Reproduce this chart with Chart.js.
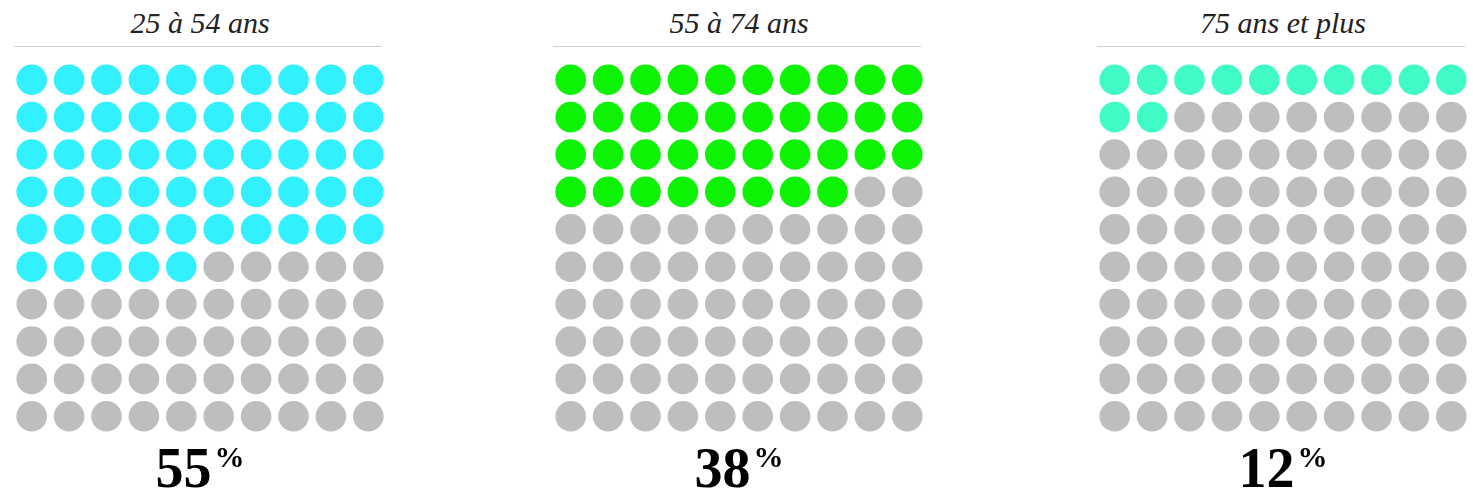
<!DOCTYPE html>
<html lang="fr">
<head>
<meta charset="utf-8">
<title>Gaufres par âge</title>
<script src="https://cdn.jsdelivr.net/npm/chart.js@4"></script>
<style>
  html, body { margin: 0; padding: 0; background: #fff; }
  body { width: 1473px; height: 491px; position: relative; overflow: hidden; }
  .panneau { position: absolute; top: 0; width: 374px; height: 491px; }
  .titre {
    position: absolute; left: 0; top: 7px; width: 374px; text-align: center;
    font-family: "Liberation Serif", serif; font-style: italic; font-size: 30px;
    line-height: 32px; color: #222;
  }
  .trait { position: absolute; left: 1px; top: 46px; width: 368px; height: 1px; background: #cfcfcf; }
  .grille { position: absolute; left: 0; top: 61px; }
  .chiffre {
    position: absolute; left: 0; top: 440px; width: 374px; text-align: center;
    font-family: "Liberation Serif", serif; font-weight: bold; font-size: 56px;
    line-height: 56px; color: #000;
  }
  .chiffre span { font-size: 30px; display: inline-block; position: relative; top: -20px; margin-left: 3px; }
</style>
</head>
<body>
<script>
// valeurs lues pour chaque tranche d'âge
const categories = ["25 à 54 ans", "55 à 74 ans", "75 ans et plus"];
const pourcentages = [55, 38, 12];
const couleurs = ["#33f0ff", "#0df205", "#40fbc5"];
const gris = "#bdbec0";
const positions = [13, 552, 1096];

const COLONNES = 10;
const LIGNES = 10;

categories.forEach((cat, k) => {
  const panneau = document.createElement("div");
  panneau.className = "panneau";
  panneau.style.left = positions[k] + "px";

  const titre = document.createElement("div");
  titre.className = "titre";
  titre.textContent = cat;
  panneau.appendChild(titre);

  const trait = document.createElement("div");
  trait.className = "trait";
  panneau.appendChild(trait);

  const canvas = document.createElement("canvas");
  canvas.className = "grille";
  canvas.width = 374;
  canvas.height = 374;
  panneau.appendChild(canvas);

  const chiffre = document.createElement("div");
  chiffre.className = "chiffre";
  chiffre.innerHTML = pourcentages[k] + "<span>%</span>";
  panneau.appendChild(chiffre);

  document.body.appendChild(panneau);

  // une pastille par point de pourcentage, remplie ligne par ligne
  const points = [];
  const fonds = [];
  for (let i = 0; i < COLONNES * LIGNES; i++) {
    points.push({ x: i % COLONNES, y: Math.floor(i / COLONNES) });
    fonds.push(i < pourcentages[k] ? couleurs[k] : gris);
  }

  new Chart(canvas, {
    type: "scatter",
    data: {
      datasets: [
        {
          label: cat,
          data: points,
          backgroundColor: fonds,
          borderWidth: 0,
          pointRadius: 15.3,
          pointHoverRadius: 15.3,
        },
      ],
    },
    options: {
      responsive: false,
      animation: false,
      events: [],
      layout: { padding: 0, autoPadding: false },
      plugins: { legend: { display: false }, tooltip: { enabled: false } },
      scales: {
        x: { display: false, min: -0.5, max: COLONNES - 0.5 },
        y: { display: false, min: -0.5, max: LIGNES - 0.5, reverse: true },
      },
    },
  });
});
</script>
</body>
</html>
